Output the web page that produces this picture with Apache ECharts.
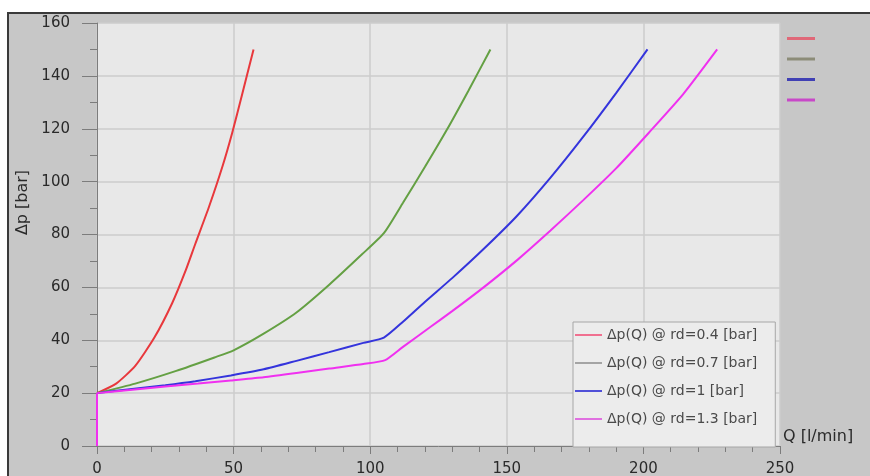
<!DOCTYPE html>
<html>
<head>
<meta charset="utf-8">
<script src="https://cdn.jsdelivr.net/npm/echarts@6/dist/echarts.min.js"></script>
<style>
  html, body { margin: 0; padding: 0; background: #ffffff; }
  #wrap { position: relative; width: 870px; height: 476px; overflow: hidden; background: #ffffff; }
  #frame { position: absolute; left: 7px; top: 12px; border-left: 2px solid #3a3a3a; border-top: 2px solid #3a3a3a; }
  #chart { width: 861px; height: 462px; }
</style>
</head>
<body>
<div id="wrap"><div id="frame"><div id="chart"></div></div></div>
<script>
// Q [l/min] vs Δp [bar]
const seriesNames = [
  'Δp(Q) @ rd=0.4 [bar]',
  'Δp(Q) @ rd=0.7 [bar]',
  'Δp(Q) @ rd=1 [bar]',
  'Δp(Q) @ rd=1.3 [bar]'
];
// every curve jumps from 0 to 20 bar at Q = 0 (only the top one shows)
const startStep = [[0, 0], [0, 20]];
const curveRd04 = [[0, 20], [7, 23.6], [14, 30.3], [21, 41], [27.5, 54], [32.5, 66.5], [36, 76.5],
  [41, 90.5], [46, 106], [49.5, 118.5], [53, 132.5], [57.3, 150]];
const curveRd07 = [[0, 20], [14, 23.6], [29, 28.4], [43, 33.5], [50, 36.2], [61, 42.5], [73, 50.5],
  [85, 61], [97, 72.5], [105, 80.5], [112, 92], [120, 105.5], [128, 119.5], [136, 134.5], [144, 150]];
const curveRd1 = [[0, 20], [12, 21.5], [25, 23], [36, 24.5], [49, 26.7], [61, 29], [73, 32.2],
  [85, 35.5], [97.5, 39], [105, 41], [112, 47], [120, 54.5], [130, 63.5], [141.5, 74.5], [153.7, 87],
  [166, 101.5], [178, 117], [190, 133.5], [201.5, 150]];
const curveRd13 = [[0, 20], [12, 21.2], [25, 22.5], [37, 23.6], [49, 24.8], [61, 26], [73, 27.6],
  [85, 29.3], [97.5, 31], [105.5, 32.5], [112, 37.5], [122, 45], [130, 51], [141.5, 60], [154, 70.5],
  [166, 81.5], [178, 93], [190, 105], [202, 118.5], [214.5, 133], [227, 150]];
const curves = [curveRd04, curveRd07, curveRd1, curveRd13];
const lineColors = ['#e8383c', '#64a043', '#3434dc', '#f030f0'];
const legendColors = ['#f07090', '#a4a4a4', '#5050d8', '#e070e0'];
const miniLegendColors = ['#e06878', '#8c8c78', '#4040b4', '#c848c8'];

const xTicks = { min: 0, max: 250, interval: 50 };
const yTicks = { min: 0, max: 160, interval: 20 };

const chart = echarts.init(document.getElementById('chart'));
const axisGray = '#7c7c7c';
const font = 'DejaVu Sans';

const series = curves.map((d, i) => ({
  name: seriesNames[i],
  type: 'line',
  data: d,
  symbol: 'none',
  smooth: 0.2,
  lineStyle: { color: lineColors[i], width: 2 },
  itemStyle: { color: lineColors[i] }
}));
series.push({
  type: 'line', data: startStep, symbol: 'none',
  lineStyle: { color: lineColors[3], width: 2 }
});

chart.setOption({
  backgroundColor: '#c7c7c7',
  animation: false,
  grid: {
    left: 88, right: 90, top: 9, bottom: 30,
    outerBoundsMode: 'none',
    show: true, backgroundColor: '#e8e8e8', borderWidth: 0
  },
  xAxis: {
    type: 'value', ...xTicks,
    name: 'Q [l/min]', nameLocation: 'end', nameGap: 3,
    nameTextStyle: { fontFamily: font, fontSize: 16, color: '#2a2a2a', verticalAlign: 'bottom', padding: [0, 0, 1, 0] },
    axisLine: { lineStyle: { color: axisGray } },
    axisTick: { length: 8, lineStyle: { color: axisGray } },
    minorTick: { show: true, splitNumber: 5, length: 6, lineStyle: { color: axisGray } },
    splitLine: { lineStyle: { color: '#cdcdcd', width: 1.5 } },
    axisLabel: { margin: 16, fontFamily: font, fontSize: 15, color: '#2a2a2a' }
  },
  yAxis: {
    type: 'value', ...yTicks,
    name: 'Δp [bar]', nameLocation: 'middle', nameGap: 65,
    nameTextStyle: { fontFamily: font, fontSize: 16, color: '#2a2a2a', padding: [0, 0, 0, 64] },
    axisLine: { show: true, lineStyle: { color: axisGray } },
    axisTick: { show: true, length: 15, lineStyle: { color: axisGray } },
    minorTick: { show: true, splitNumber: 2, length: 7, lineStyle: { color: axisGray } },
    splitLine: { lineStyle: { color: '#cdcdcd', width: 1.5 } },
    axisLabel: { margin: 27, fontFamily: font, fontSize: 15, color: '#2a2a2a' }
  },
  legend: [{
    data: seriesNames.map((n, i) => ({ name: n, itemStyle: { color: legendColors[i] } })),
    icon: 'rect',
    orient: 'vertical', left: 564, top: 308,
    itemWidth: 27, itemHeight: 2, itemGap: 14,
    backgroundColor: '#ececec', borderColor: '#a6a6a6', borderWidth: 1,
    padding: [6, 18, 21, 2],
    textStyle: { fontFamily: font, fontSize: 14, color: '#4a4a4a' }
  }, {
    data: seriesNames.map((n, i) => ({ name: n, itemStyle: { color: miniLegendColors[i] } })),
    icon: 'rect',
    orient: 'vertical', left: 778, top: 23,
    itemWidth: 28, itemHeight: 3, itemGap: 17.5,
    formatter: () => '',
    textStyle: { fontSize: 1 },
    padding: 0
  }],
  series
});
</script>
</body>
</html>
